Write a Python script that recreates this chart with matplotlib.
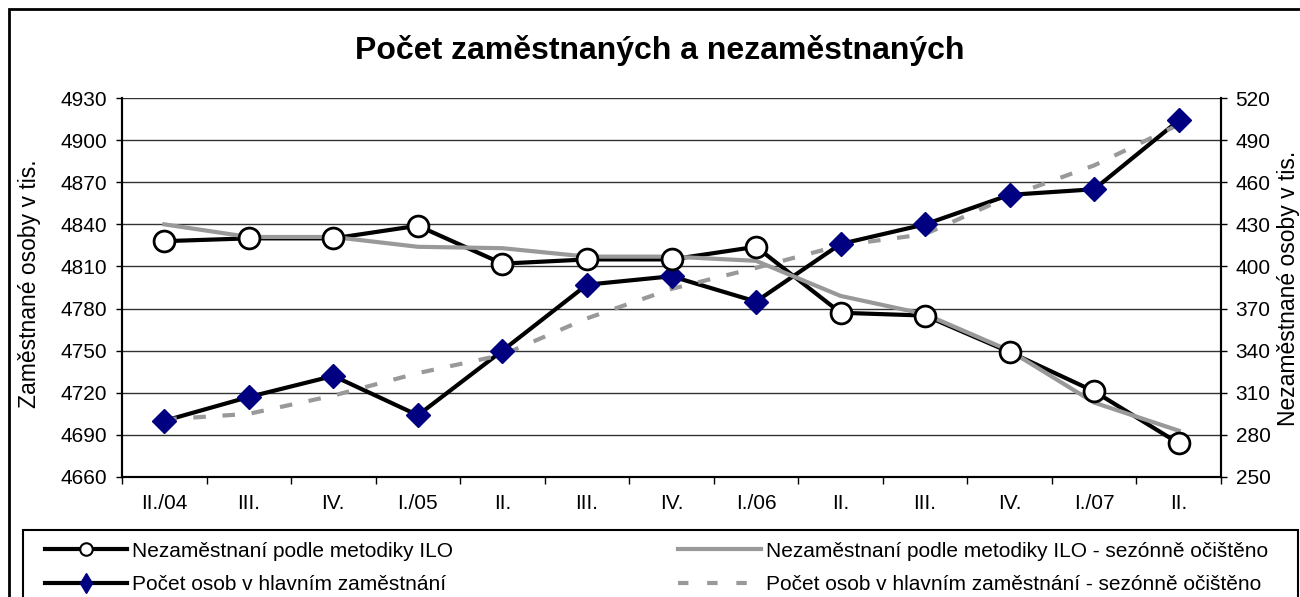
import numpy as np
import matplotlib.pyplot as plt
from matplotlib.lines import Line2D
from matplotlib.patches import Rectangle

plt.rcParams['font.family'] = ['Liberation Sans', 'DejaVu Sans']

# Quarters
quarters = ['II./04', 'III.', 'IV.', 'I./05', 'II.', 'III.', 'IV.', 'I./06',
            'II.', 'III.', 'IV.', 'I./07', 'II.']

# Unemployed (ILO), right axis, thousands
unemp = [418, 420, 420, 429, 402, 405, 405, 414, 367, 365, 339, 311, 274]
unemp_sa = [430, 421, 421, 414, 413, 407, 407, 404, 379, 366, 340, 303, 283]

# Employed in main job, left axis, thousands
emp = [4700, 4717, 4732, 4704, 4750, 4797, 4803, 4785, 4826, 4840, 4861, 4865, 4914]
emp_sa = [4701, 4705, 4718, 4734, 4747, 4773, 4794, 4809, 4825, 4833, 4860, 4882, 4911]

labels = ['Nezaměstnaní podle metodiky ILO',
          'Nezaměstnaní podle metodiky ILO - sezónně očištěno',
          'Počet osob v hlavním zaměstnání',
          'Počet osob v hlavním zaměstnání - sezónně očištěno']

grey = '#999999'
navy = '#000080'
lw = 3.0
fs = 15

fig = plt.figure(figsize=(13, 5.97), dpi=100)
W, H = 1300, 597
ax = fig.add_axes([122 / W, (H - 477) / H, (1221 - 122) / W, (477 - 98) / H])
ax2 = ax.twinx()

x = np.arange(len(quarters))

# left axis: employment
ax.plot(x, emp, color='black', lw=lw, zorder=2)
ax.plot(x, emp_sa, color=grey, lw=lw, dashes=(3, 4), zorder=3)
ax.plot(x, emp, ls='none', marker='D', ms=12.5, mfc=navy, mec=navy, zorder=4)

# right axis: unemployment
ax2.plot(x, unemp, color='black', lw=lw, zorder=2)
ax2.plot(x, unemp_sa, color=grey, lw=lw, zorder=3)
ax2.plot(x, unemp, ls='none', marker='o', ms=15, mfc='white', mec='black',
         mew=2, zorder=4)

ax.set_xlim(-0.5, len(quarters) - 0.5)
ax.set_ylim(4660, 4930)
ax.set_yticks(np.arange(4660, 4931, 30))
ax2.set_ylim(250, 520)
ax2.set_yticks(np.arange(250, 521, 30))

ax.set_xticks(x)
ax.set_xticklabels(quarters)
ax.set_xticks(np.arange(-0.5, len(quarters), 1), minor=True)
ax.tick_params(axis='x', which='major', length=0, pad=12, labelsize=fs)
ax.tick_params(axis='x', which='minor', length=5, width=1, direction='out')
ax.tick_params(axis='y', length=4.5, width=1, labelsize=fs, pad=6)
ax2.tick_params(axis='y', length=4.5, width=1, labelsize=fs, pad=6)

ax.grid(axis='y', color='#333333', lw=1)
ax.set_axisbelow(True)
for a in (ax, ax2):
    a.spines['top'].set_visible(False)
    for s in ('left', 'right', 'bottom'):
        a.spines[s].set_linewidth(1.5)
        a.spines[s].set_color('black')

fig.text(660 / W, 1 - 50 / H, 'Počet zaměstnaných a nezaměstnaných',
         ha='center', va='center', fontsize=23, fontweight='bold')
fig.text(30 / W, 1 - 284 / H, 'Zaměstnané osoby v tis.', rotation=90,
         ha='center', va='center', fontsize=16.5)
fig.text(1289 / W, 1 - 288 / H, 'Nezaměstnané osoby v tis.', rotation=90,
         ha='center', va='center', fontsize=16.5)

# outer border and legend box
fig.patches.append(Rectangle((9 / W, -0.1), 1.2, 1 - 9 / H + 0.1,
                             transform=fig.transFigure, fill=False,
                             ec='black', lw=2))
fig.patches.append(Rectangle((23 / W, -0.1), (1298 - 23) / W, 0.1 + (H - 530) / H,
                             transform=fig.transFigure, fill=False,
                             ec='black', lw=1.5))

handles = [
    Line2D([], [], color='black', lw=lw, marker='o', ms=9, mfc='white',
           mec='black', mew=1.5),
    Line2D([], [], color=grey, lw=lw),
    Line2D([], [], color='black', lw=lw, marker='d', ms=10, mfc=navy, mec=navy),
    Line2D([], [], color=grey, lw=lw, dashes=(2.5, 4.5)),
]
fig.legend([handles[0], handles[2], handles[1], handles[3]],
           [labels[0], labels[2], labels[1], labels[3]],
           ncol=2, frameon=False, fontsize=fs, handlelength=3.95,
           handletextpad=0.25, columnspacing=10.8, labelspacing=0.7,
           loc='upper left', bbox_to_anchor=(26 / W, 1 - 523 / H))

fig.savefig('out.png', dpi=100)
